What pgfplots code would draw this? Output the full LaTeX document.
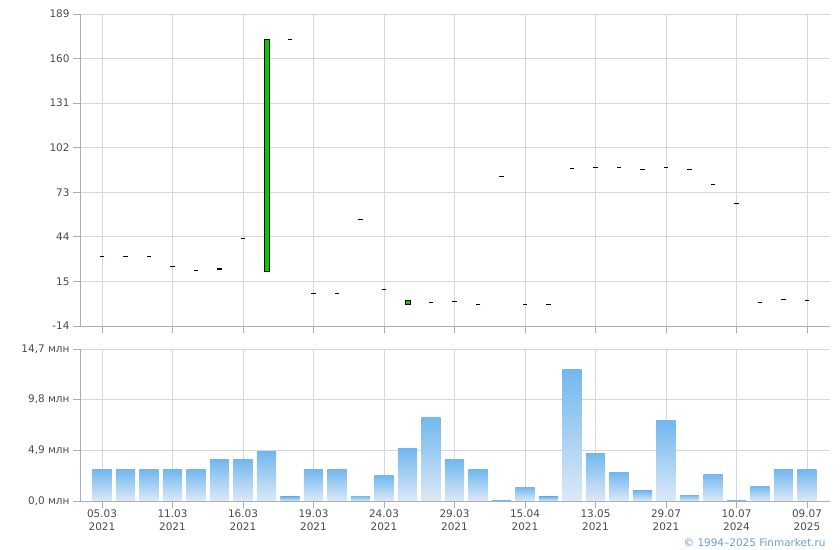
\documentclass[border=0pt]{standalone}
\usepackage{pgfplots}
\pgfplotsset{compat=1.18}
\usepackage{fontspec}
\setmainfont{DejaVu Sans}
\definecolor{gridc}{HTML}{D3D8DD}
\definecolor{axisc}{HTML}{A9ADB5}
\definecolor{labc}{HTML}{4A4A4A}
\definecolor{bartop}{HTML}{72B8EE}
\definecolor{barbot}{HTML}{DCE9F7}
\definecolor{candle}{HTML}{00CC00}
\definecolor{copyc}{HTML}{6C9BD8}
\pgfplotsset{
  common/.style={
    scale only axis, width=750bp,
    xmin=-0.936, xmax=30.98,
    axis x line=bottom, axis y line=left,
    axis line style={draw=axisc, line width=0.9bp, -},
    grid=major, grid style={draw=gridc, line width=0.9bp},
    tick align=outside, major tick length=7bp,
    tick style={draw=axisc, line width=0.9bp},
    xtick={0,3,...,30},
    tick label style={font=\fontsize{10.5}{13}\selectfont, text=labc},
  },
  vb/.style={ybar, bar width=0.81, draw=none, top color=bartop, bottom color=barbot, forget plot}
}
\begin{document}
\begin{tikzpicture}
\useasboundingbox (0bp,0bp) rectangle (840bp,550bp);
\begin{axis}[common, at={(80bp,224bp)}, anchor=south west, height=312bp,
  ymin=-14, ymax=189, ytick={-14,15,44,73,102,131,160,189},
  yticklabels={-14,15,44,73,102,131,160,189},
  xticklabels={}]
\addplot[only marks, mark=-, mark size=2.3bp, mark options={line width=1.3bp, draw=black}]
 coordinates {(0,31.4)(1,31.4)(2,31.4)(3,24.8)(4,22.2)(5,23.1)(6,43.1)(8,172.5)
 (9,7.3)(10,7.3)(11,55.4)(12,9.9)(14,1.4)(15,2.1)(16,0.1)(17,83.4)(18,0.1)(19,0.1)
 (20,88.6)(21,89.2)(22,89.2)(23,87.9)(24,89.2)(25,87.9)(26,78.2)(27,65.8)(28,1.4)(29,3.4)(30,2.7)};
\addplot[fill=candle, draw=black, line width=1bp] coordinates {(6.91,21.6)(7.11,21.6)(7.11,172.5)(6.91,172.5)} -- cycle;
\addplot[fill=candle, draw=black, line width=1bp] coordinates {(12.91,-0.1)(13.11,-0.1)(13.11,2.4)(12.91,2.4)} -- cycle;
\end{axis}
\begin{axis}[common, at={(80bp,49bp)}, anchor=south west, height=152bp,
  ymin=0, ymax=14.7, ytick={0,4.9,9.8,14.7},
  yticklabels={{0,0 млн},{4,9 млн},{9,8 млн},{14,7 млн}},
  xticklabels={{05.03\\2021},{11.03\\2021},{16.03\\2021},{19.03\\2021},{24.03\\2021},{29.03\\2021},{15.04\\2021},{13.05\\2021},{29.07\\2021},{10.07\\2024},{09.07\\2025}},
  xticklabel style={align=center, yshift=2bp}]
\addplot[vb] coordinates {(0,3.0)};
\addplot[vb] coordinates {(1,3.0)};
\addplot[vb] coordinates {(2,3.0)};
\addplot[vb] coordinates {(3,3.0)};
\addplot[vb] coordinates {(4,3.0)};
\addplot[vb] coordinates {(5,3.97)};
\addplot[vb] coordinates {(6,3.97)};
\addplot[vb] coordinates {(7,4.74)};
\addplot[vb] coordinates {(8,0.39)};
\addplot[vb] coordinates {(9,3.0)};
\addplot[vb] coordinates {(10,3.0)};
\addplot[vb] coordinates {(11,0.48)};
\addplot[vb] coordinates {(12,2.42)};
\addplot[vb] coordinates {(13,5.03)};
\addplot[vb] coordinates {(14,8.12)};
\addplot[vb] coordinates {(15,3.97)};
\addplot[vb] coordinates {(16,3.0)};
\addplot[vb] coordinates {(17,0.1)};
\addplot[vb] coordinates {(18,1.35)};
\addplot[vb] coordinates {(19,0.39)};
\addplot[vb] coordinates {(20,12.67)};
\addplot[vb] coordinates {(21,4.64)};
\addplot[vb] coordinates {(22,2.71)};
\addplot[vb] coordinates {(23,0.97)};
\addplot[vb] coordinates {(24,7.74)};
\addplot[vb] coordinates {(25,0.58)};
\addplot[vb] coordinates {(26,2.61)};
\addplot[vb] coordinates {(27,0.1)};
\addplot[vb] coordinates {(28,1.45)};
\addplot[vb] coordinates {(29,3.0)};
\addplot[vb] coordinates {(30,3.0)};
\end{axis}
\node[anchor=base east, font=\fontsize{10.5}{12}\selectfont, text=copyc] at (829bp,4bp) {© 1994–2025 Finmarket.ru};
\end{tikzpicture}
\end{document}
